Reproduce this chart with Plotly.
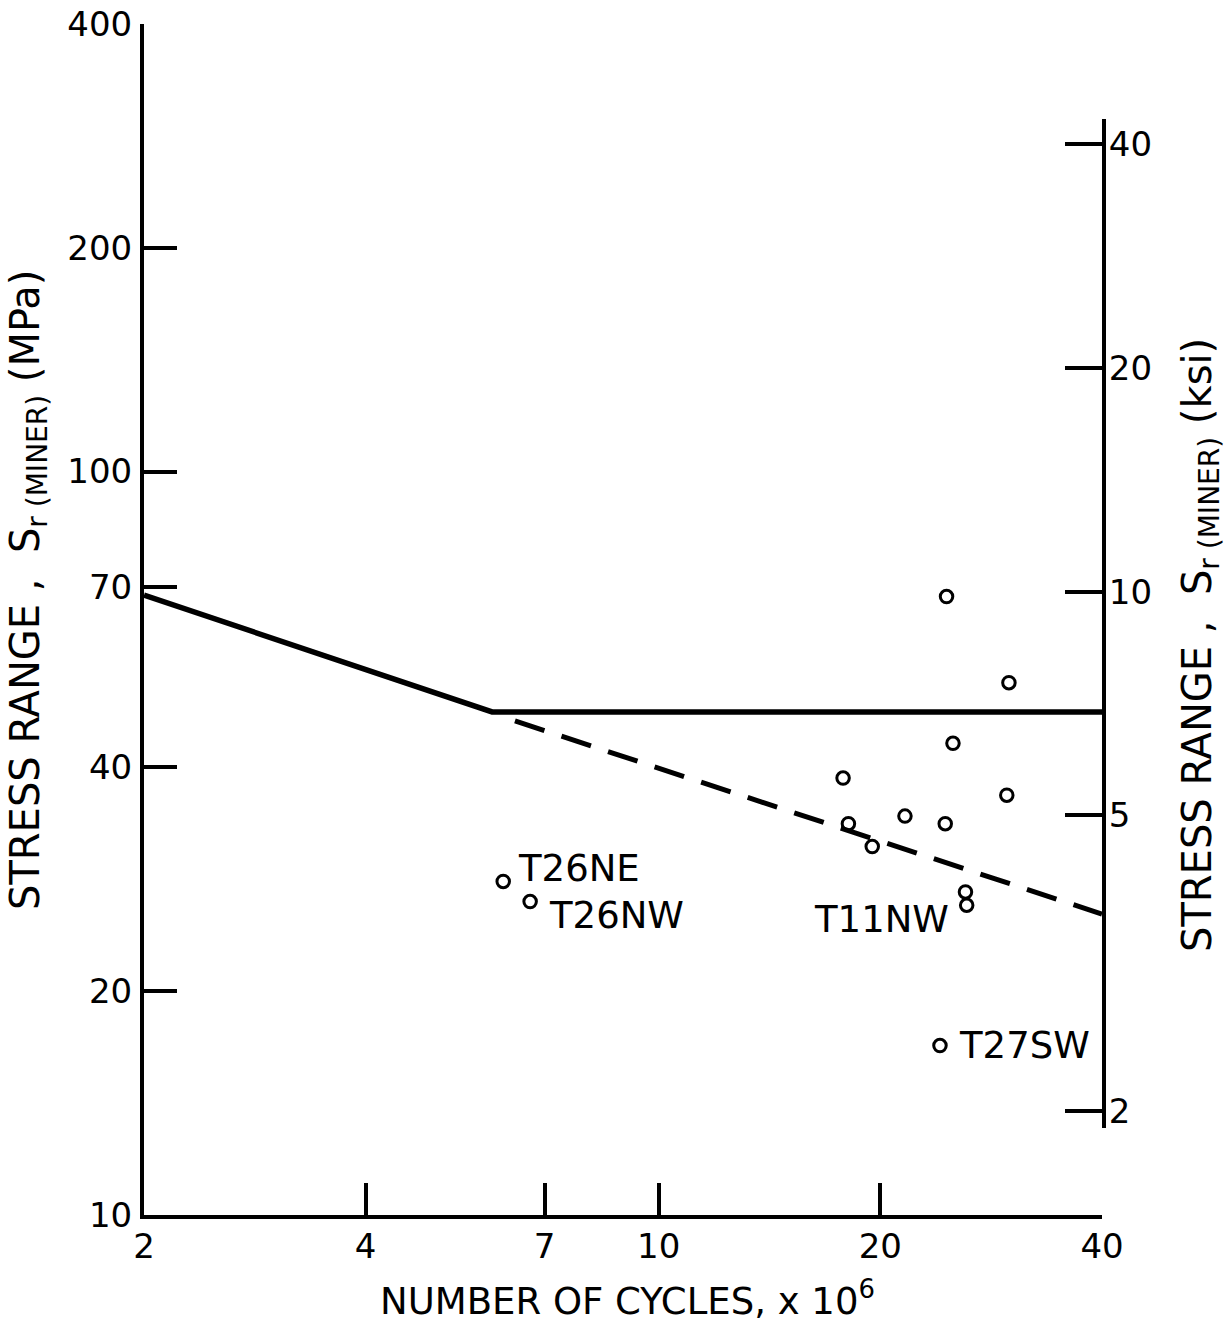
import math
import plotly.graph_objects as go

# ---- data -------------------------------------------------------------
# cycles (x 10^6) and Miner stress range (MPa) for each tested detail
cycles = [24.6, 29.9, 25.1, 17.8, 29.7, 18.1, 21.6, 24.5, 19.5,
          26.1, 26.2, 6.15, 6.69, 24.1]
stress_mpa = [67.9, 52.0, 43.1, 38.7, 36.7, 33.6, 34.4, 33.6, 31.3,
              27.2, 26.1, 28.1, 26.4, 16.9]

# design curve: sloped branch then constant-amplitude fatigue limit
design_cycles = [2.0, 5.94, 40.0]
design_stress = [68.2, 47.5, 47.5]

# extension of the sloped branch below the fatigue limit
ext_cycles = [6.38, 40.0]
ext_stress = [46.2, 25.4]

# labelled specimens
label_names = ["T26NE", "T26NW", "T27SW", "T11NW"]
label_cycles = [6.15, 6.69, 24.1, 26.2]
label_stress = [28.1, 26.4, 16.9, 26.1]

# axis ticks
x_ticks = [2, 4, 7, 10, 20, 40]
y_ticks_mpa = [10, 20, 40, 70, 100, 200, 400]
y_ticks_ksi = [2, 5, 10, 20, 40]

MPA_PER_KSI = 6.895

# ---- figure -----------------------------------------------------------
FONT = "DejaVu Sans"
W, H = 1229, 1323
ML, MR, MT, MB = 144, 127, 24, 108

x_range = [math.log10(2), math.log10(40)]
y_range = [1.0, math.log10(400)]

# the ksi scale is drawn on a shorter axis segment; its range follows
# from the MPa scale so both read the same stress
plot_h = H - MT - MB
plot_w = W - ML - MR
d0 = (1215 - 1128) / plot_h
d1 = (1215 - 119) / plot_h
span = y_range[1] - y_range[0]
c = math.log10(MPA_PER_KSI)
y2_range = [y_range[0] + d0 * span - c, y_range[0] + d1 * span - c]

fig = go.Figure()

fig.add_trace(go.Scatter(
    x=design_cycles, y=design_stress, mode="lines",
    line=dict(color="black", width=5.5), showlegend=False))

fig.add_trace(go.Scatter(
    x=ext_cycles, y=ext_stress, mode="lines",
    line=dict(color="black", width=5, dash="31px,18px"), showlegend=False))

fig.add_trace(go.Scatter(
    x=cycles, y=stress_mpa, mode="markers",
    marker=dict(symbol="circle-open", size=12.5, color="black",
                line=dict(width=3, color="black")),
    showlegend=False))

# empty trace so the ksi axis has a subplot
fig.add_trace(go.Scatter(x=[], y=[], yaxis="y2", showlegend=False))

tick_font = dict(family=FONT, size=34, color="black")

fig.update_layout(
    width=W, height=H,
    margin=dict(l=ML, r=MR, t=MT, b=MB, pad=0),
    paper_bgcolor="white", plot_bgcolor="rgba(0,0,0,0)",
    font=dict(family=FONT, color="black"),
    xaxis=dict(
        type="log", range=x_range, tickvals=x_ticks,
        ticktext=[str(v) for v in x_ticks],
        ticks="inside", ticklen=32, tickwidth=3.5, tickcolor="black",
        showline=True, linewidth=4, linecolor="black",
        showgrid=False, zeroline=False, tickfont=tick_font,
        ticklabelstandoff=-2, automargin=False,
    ),
    yaxis=dict(
        type="log", range=y_range, tickvals=y_ticks_mpa,
        ticktext=[str(v) for v in y_ticks_mpa],
        ticks="inside", ticklen=33, tickwidth=3.5, tickcolor="black",
        showline=True, linewidth=4, linecolor="black",
        showgrid=False, zeroline=False, tickfont=tick_font,
        ticklabelstandoff=1, automargin=False,
    ),
    yaxis2=dict(
        type="log", range=y2_range, domain=[d0, d1], anchor="x",
        side="right", tickvals=y_ticks_ksi,
        ticktext=[str(v) for v in y_ticks_ksi],
        ticks="inside", ticklen=37, tickwidth=3.5, tickcolor="black",
        showline=True, linewidth=4, linecolor="black",
        showgrid=False, zeroline=False, tickfont=tick_font,
        ticklabelstandoff=-4, automargin=False,
    ),
)

# specimen labels
label_offsets = {
    "T26NE": dict(xanchor="left", xshift=13, yshift=13),
    "T26NW": dict(xanchor="left", xshift=17, yshift=-14),
    "T27SW": dict(xanchor="left", xshift=17, yshift=0),
    "T11NW": dict(xanchor="right", xshift=-16, yshift=-14),
}
for name, n, s in zip(label_names, label_cycles, label_stress):
    off = label_offsets[name]
    fig.add_annotation(
        x=math.log10(n), y=math.log10(s), xref="x", yref="y",
        text=name, showarrow=False, yanchor="middle",
        font=dict(family=FONT, size=37, color="black"), **off)

# axis titles
title_font = dict(family=FONT, size=37, color="black")
fig.add_annotation(
    x=(627 - ML) / plot_w, y=(1215 - 1298) / plot_h,
    xref="paper", yref="paper", showarrow=False,
    xanchor="center", yanchor="middle",
    text="NUMBER OF CYCLES, x 10<sup>6</sup>", font=title_font)

fig.add_annotation(
    x=(28 - ML) / plot_w, y=(1215 - 590) / plot_h,
    xref="paper", yref="paper", showarrow=False, textangle=-90,
    xanchor="center", yanchor="middle",
    text="STRESS RANGE&nbsp;,&nbsp; S<sub>r (MINER)</sub> (MPa)",
    font=dict(family=FONT, size=40, color="black"))

fig.add_annotation(
    x=(1200 - ML) / plot_w, y=(1215 - 645) / plot_h,
    xref="paper", yref="paper", showarrow=False, textangle=-90,
    xanchor="center", yanchor="middle",
    text="STRESS RANGE&nbsp;,&nbsp; S<sub>r (MINER)</sub> (ksi)",
    font=dict(family=FONT, size=40, color="black"))

fig.write_html("out.html")
